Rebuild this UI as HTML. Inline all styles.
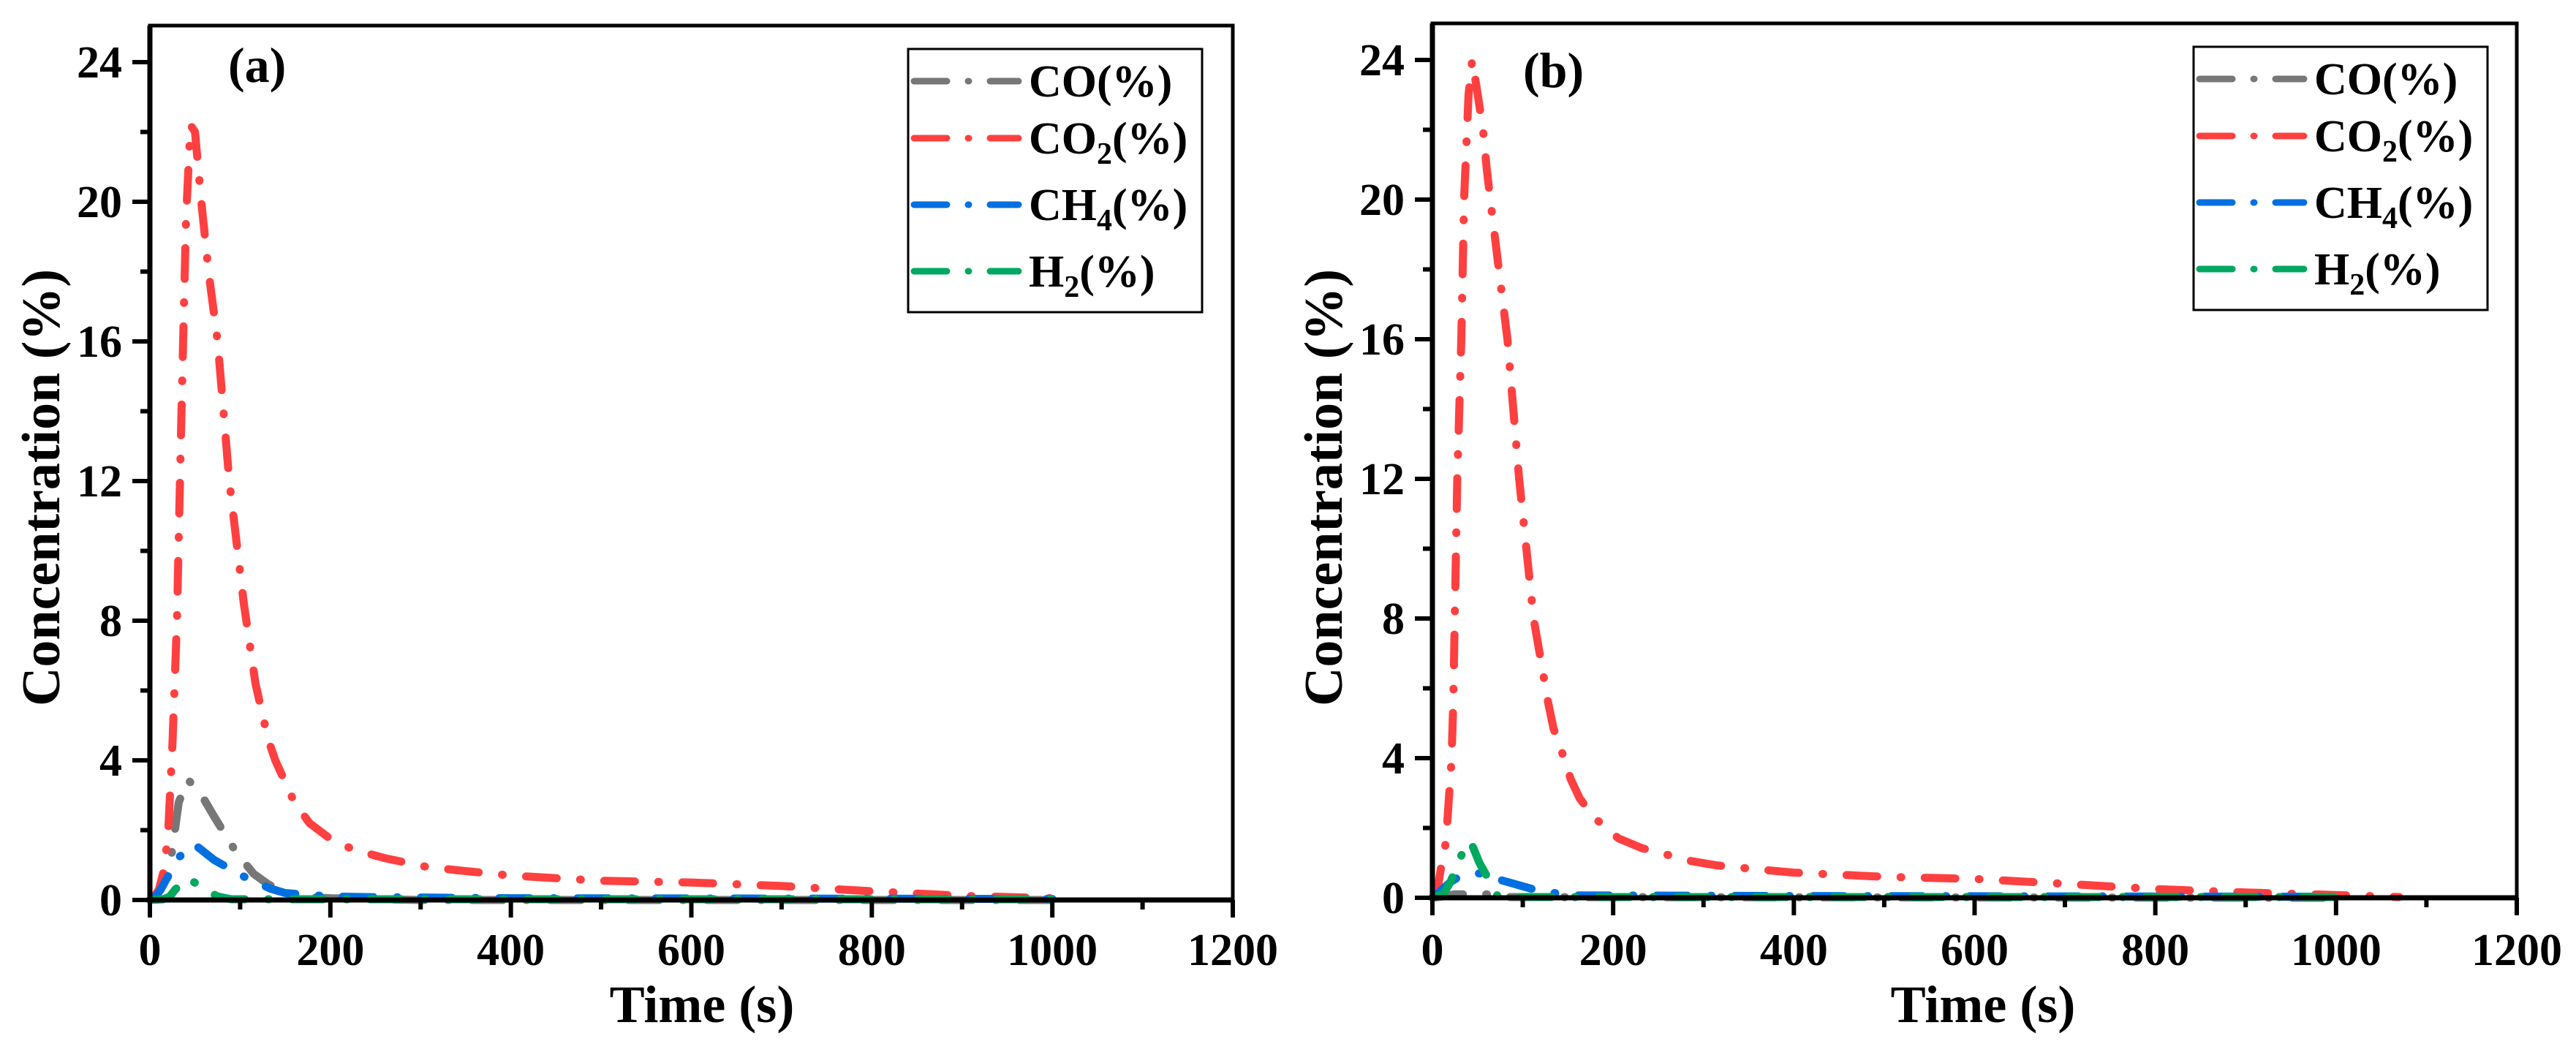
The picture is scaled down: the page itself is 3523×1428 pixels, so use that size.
<!DOCTYPE html>
<html><head><meta charset="utf-8"><style>
html,body{margin:0;padding:0;background:#fff;}
svg{display:block;}
text{font-family:"Liberation Serif","Times New Roman",serif;font-weight:bold;fill:#000;}
</style></head><body>
<svg id="chart" width="3523" height="1428" viewBox="0 0 3523 1428" xmlns="http://www.w3.org/2000/svg" font-family="Liberation Serif, serif" font-weight="bold"></svg>
<script>
const seriesNames = ["CO", "CO2", "CH4", "H2"];
const seriesColors = ["#777777", "#ff4040", "#0070e0", "#00a860"];
const xTicks = [0, 200, 400, 600, 800, 1000, 1200];
const yTicks = [0, 4, 8, 12, 16, 20, 24];

const aCO2_t = [0, 5, 10, 15, 20, 25, 30, 35, 40, 45, 50, 57, 65, 75, 88, 104, 117, 131, 139, 160, 177, 200, 225, 260, 306, 341, 400, 500, 600, 700, 800, 900, 1000, 1010];
const aCO2_v = [0, 0.1, 0.3, 0.8, 1.8, 4.5, 8.0, 14.0, 19.5, 22.2, 22.0, 20.0, 18.0, 16.0, 12.0, 8.5, 6.2, 4.6, 4.0, 2.8, 2.2, 1.75, 1.45, 1.2, 0.95, 0.85, 0.7, 0.55, 0.5, 0.4, 0.25, 0.12, 0.05, 0.03];
const aCO_t = [0, 5, 12, 20, 24, 32, 42, 55, 71, 84, 96, 115, 131, 160, 200, 250, 300, 1000];
const aCO_v = [0, 0.05, 0.3, 0.9, 1.3, 2.8, 3.45, 3.1, 2.4, 1.85, 1.35, 0.75, 0.45, 0.1, 0.05, 0.02, 0, 0];
const aCH4_t = [0, 5, 12, 20, 31, 49, 71, 88, 107, 134, 150, 200, 250, 400, 1000];
const aCH4_v = [0, 0.05, 0.3, 0.67, 1.2, 1.6, 1.15, 0.9, 0.63, 0.32, 0.2, 0.1, 0.08, 0.05, 0.03];
const aH2_t = [0, 15, 22, 28, 42, 61, 75, 90, 1000];
const aH2_v = [0, 0.02, 0.1, 0.3, 0.63, 0.3, 0.1, 0.02, 0.02];

const bCO2_t = [0, 6, 10, 15, 18, 21, 23, 27.5, 32, 35, 40, 44, 49, 56, 60, 65, 83, 96, 112, 128, 134, 147, 153, 163, 179, 206, 232, 287, 314, 354, 400, 500, 600, 700, 800, 900, 1000, 1070];
const bCO2_v = [0, 0.3, 0.94, 1.6, 2.75, 3.9, 5.5, 12, 16, 20, 23, 24.0, 23.2, 22.0, 20.9, 19.8, 16, 12, 8, 5.6, 4.85, 3.9, 3.4, 2.85, 2.3, 1.7, 1.42, 1.05, 0.93, 0.83, 0.72, 0.6, 0.54, 0.4, 0.25, 0.15, 0.08, 0.02];
const bCO_t = [0, 15, 25, 40, 60, 75, 1000];
const bCO_v = [0, 0.05, 0.1, 0.1, 0.1, 0.02, 0];
const bCH4_t = [0, 9, 20, 28, 40, 52, 74, 112, 130, 160, 400, 1000];
const bCH4_v = [0, 0.2, 0.45, 0.58, 0.65, 0.7, 0.52, 0.24, 0.15, 0.07, 0.05, 0.03];
const bH2_t = [0, 12, 20, 31, 39, 45, 52, 64, 72, 90, 1000];
const bH2_v = [0, 0.1, 0.45, 1.15, 1.63, 1.45, 1.0, 0.45, 0.05, 0.02, 0.02];

const panels = [
  {id:"a", label:"(a)", left:205, right:1686, top:35, y0:1231, y24:85, legX:1242, legY:67, labX:312, labY:112, titleX:960,
   data:[[aCO_t,aCO_v],[aCO2_t,aCO2_v],[aCH4_t,aCH4_v],[aH2_t,aH2_v]]},
  {id:"b", label:"(b)", left:1959, right:3442, top:32, y0:1228, y24:82, legX:3000, legY:64, labX:2083, labY:119, titleX:2712,
   data:[[bCO_t,bCO_v],[bCO2_t,bCO2_v],[bCH4_t,bCH4_v],[bH2_t,bH2_v]]}
];

const NS = "http://www.w3.org/2000/svg";
const svg = document.getElementById("chart");
function mk(tag, attrs, parent){
  const e = document.createElementNS(NS, tag);
  for (const k in attrs) e.setAttribute(k, attrs[k]);
  (parent||svg).appendChild(e);
  return e;
}
const DASH = "42 32 1 32";

panels.forEach(p => {
  const g = mk("g", {});
  
  
  const xs = t => p.left + (t/1200)*(p.right - p.left);
  const ys = v => p.y0 - (v/24)*(p.y0 - p.y24);

  p.data.forEach((d, i) => {
    const pts = d[0].map((t, j) => xs(t).toFixed(1) + "," + ys(d[1][j]).toFixed(1)).join(" ");
    const pl = mk("polyline", {points: pts, fill:"none", stroke: seriesColors[i], "stroke-width":11, "stroke-dasharray":DASH, "stroke-linecap":"round", "stroke-linejoin":"round"}, g);
    
    
  });

  const fr = mk("rect", {x:p.left, y:p.top, width:p.right-p.left, height:p.y0-p.top, fill:"none", stroke:"#000", "stroke-width":5}, g);
  
  
  const xa = mk("line", {x1:p.left-3, x2:p.right, y1:p.y0, y2:p.y0, stroke:"#000", "stroke-width":7}, g);
  
  
  const ya = mk("line", {x1:p.left, x2:p.left, y1:p.top, y2:p.y0+3, stroke:"#000", "stroke-width":7}, g);
  
  

  for (let t = 0; t <= 1200; t += 100) {
    const major = xTicks.indexOf(t) >= 0;
    mk("line", {x1:xs(t), x2:xs(t), y1:p.y0, y2:p.y0 + (major?24:13), stroke:"#000", "stroke-width":6}, g);
  }
  xTicks.forEach(t => {
    const tx = mk("text", {x:xs(t), y:1320, "font-size":62, "text-anchor":"middle"}, g);
    tx.textContent = t;
    
    
  });
  for (let v = 0; v <= 24; v += 2) {
    const major = yTicks.indexOf(v) >= 0;
    mk("line", {x1:p.left - (major?24:13), x2:p.left, y1:ys(v), y2:ys(v), stroke:"#000", "stroke-width":6}, g);
  }
  yTicks.forEach(v => {
    const tx = mk("text", {x:p.left-38, y:ys(v)+21, "font-size":62, "text-anchor":"end"}, g);
    tx.textContent = v;
    
    
  });

  const xt = mk("text", {x:p.titleX, y:1398, "font-size":72, "text-anchor":"middle"}, g);
  xt.textContent = "Time (s)";
  
  
  const yt = mk("text", {x:0, y:0, "font-size":74, "text-anchor":"middle", transform:"translate(" + (p.left-124) + ",667) rotate(-90)"}, g);
  yt.textContent = "Concentration (%)";
  
  
  const pl = mk("text", {x:p.labX, y:p.labY, "font-size":68}, g);
  pl.textContent = p.label;
  
  

  const lg = mk("g", {}, g);
  
  
  mk("rect", {x:p.legX, y:p.legY, width:402, height:360, fill:"#fff", stroke:"#000", "stroke-width":3}, lg);
  const rowY = [44, 122, 213, 304];
  const subs = ["", "2", "4", "2"];
  const bases = ["CO", "CO", "CH", "H"];
  seriesNames.forEach((n, i) => {
    const y = p.legY + rowY[i];
    const ent = mk("g", {}, lg);
    
    
    mk("line", {x1:p.legX+8, x2:p.legX+151, y1:y, y2:y, stroke:seriesColors[i], "stroke-width":9, "stroke-dasharray":"45 29 1 29", "stroke-linecap":"round"}, ent);
    const tx = mk("text", {x:p.legX+165, y:y+21, "font-size":62}, ent);
    tx.appendChild(document.createTextNode(bases[i]));
    if (subs[i]) {
      const ts = mk("tspan", {"font-size":42, dy:14}, tx);
      ts.textContent = subs[i];
      const t2 = mk("tspan", {dy:-14}, tx);
      t2.textContent = "(%)";
    } else {
      tx.appendChild(document.createTextNode("(%)"));
    }
  });
});
</script>
</body></html>
